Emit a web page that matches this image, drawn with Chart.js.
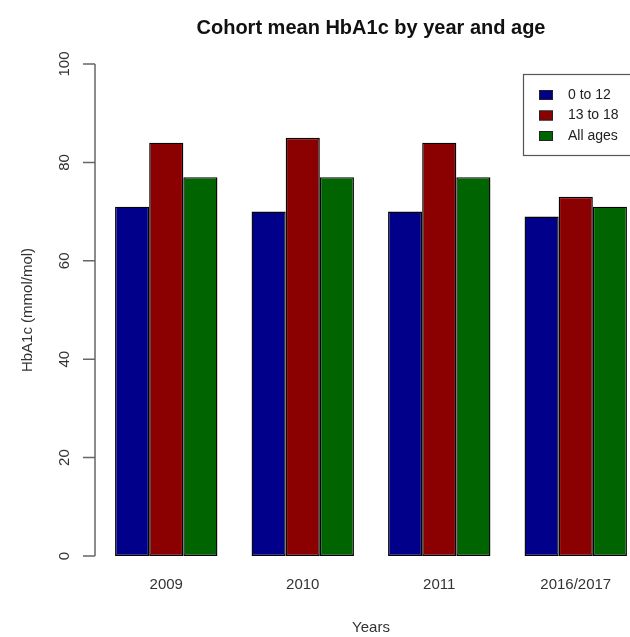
<!DOCTYPE html>
<html>
<head>
<meta charset="utf-8">
<script src="https://cdn.jsdelivr.net/npm/chart.js@4/dist/chart.umd.min.js"></script>
<style>
  html, body { margin: 0; padding: 0; background: #fff; width: 630px; height: 637px; overflow: hidden; }
  #wrap { width: 680px; height: 637px; }
</style>
</head>
<body>
<div id="wrap"><canvas id="chart" width="680" height="637"></canvas></div>
<script>
// Cohort mean HbA1c (mmol/mol) per survey year, split by age group
const years = ['2009', '2010', '2011', '2016/2017'];
const ageGroups = ['0 to 12', '13 to 18', 'All ages'];
const age0to12 = [71, 70, 70, 69];
const age13to18 = [84, 85, 84, 73];
const allAges = [77, 77, 77, 71];
const yTicks = [0, 20, 40, 60, 80, 100];

const FONT = '"Liberation Sans", Arial, Helvetica, sans-serif';
const colours = ['#00008B', '#8B0000', '#006400'];
const seriesValues = [age0to12, age13to18, allAges];

// R-style y axis: line spanning the data range, outward ticks, rotated labels
const baseAxis = {
  id: 'baseAxis',
  afterDraw(chart) {
    const { ctx, chartArea } = chart;
    const y = chart.scales.y;
    const x0 = chartArea.left - 3;
    const vals = y.ticks.map(t => t.value);
    ctx.save();
    ctx.strokeStyle = '#666';
    ctx.lineWidth = 1.5;
    ctx.beginPath();
    ctx.moveTo(x0, y.getPixelForValue(vals[0]));
    ctx.lineTo(x0, y.getPixelForValue(vals[vals.length - 1]));
    vals.forEach(v => {
      const py = y.getPixelForValue(v);
      ctx.moveTo(x0 - 12, py);
      ctx.lineTo(x0, py);
    });
    ctx.stroke();
    ctx.fillStyle = '#333';
    ctx.font = '15px ' + FONT;
    ctx.textAlign = 'center';
    ctx.textBaseline = 'middle';
    vals.forEach(v => {
      const py = y.getPixelForValue(v);
      ctx.save();
      ctx.translate(x0 - 30, py);
      ctx.rotate(-Math.PI / 2);
      ctx.fillText(String(v), 0, 0);
      ctx.restore();
    });
    ctx.restore();
  }
};

// Boxed legend in the top-right corner of the plot
const boxLegend = {
  id: 'boxLegend',
  afterDraw(chart) {
    const { ctx, chartArea } = chart;
    const left = chartArea.right - 121;
    const top = chartArea.top + 10;
    ctx.save();
    ctx.fillStyle = '#fff';
    ctx.fillRect(left, top, 121, 81);
    ctx.strokeStyle = '#555';
    ctx.lineWidth = 1.2;
    ctx.strokeRect(left + 0.5, top + 0.5, 121, 81);
    ctx.font = '14px ' + FONT;
    ctx.textBaseline = 'middle';
    ctx.textAlign = 'left';
    chart.data.datasets.forEach((ds, i) => {
      const cy = top + 21 + i * 20.5;
      ctx.fillStyle = ds.backgroundColor;
      ctx.fillRect(left + 16, cy - 5, 14, 10);
      ctx.strokeStyle = '#222';
      ctx.lineWidth = 1;
      ctx.strokeRect(left + 16.5, cy - 4.5, 13, 9);
      ctx.fillStyle = '#222';
      ctx.fillText(ds.label, left + 45, cy);
    });
    ctx.restore();
  }
};

new Chart(document.getElementById('chart'), {
  type: 'bar',
  data: {
    labels: years,
    datasets: ageGroups.map((g, i) => ({
      label: g,
      data: seriesValues[i],
      backgroundColor: colours[i],
      borderColor: '#000',
      borderWidth: 1.4,
      borderSkipped: false,
      barPercentage: 1,
      categoryPercentage: 0.75
    }))
  },
  options: {
    responsive: false,
    animation: false,
    devicePixelRatio: 1,
    layout: { padding: { left: 0, right: 36, top: 0, bottom: 0 } },
    plugins: {
      legend: { display: false },
      tooltip: { enabled: false },
      title: {
        display: true,
        fullSize: false,
        text: 'Cohort mean HbA1c by year and age',
        color: '#111',
        font: { family: FONT, size: 20, weight: 'bold' },
        padding: { top: 16, bottom: 24 }
      }
    },
    scales: {
      x: {
        grid: { display: false, drawTicks: false },
        border: { display: false },
        ticks: { color: '#333', font: { family: FONT, size: 15 }, padding: 20, maxRotation: 0 },
        title: {
          display: true, text: 'Years', color: '#333',
          font: { family: FONT, size: 15 }, padding: { top: 0, bottom: 0 }
        },
        afterFit(s) { s.height = 81; }
      },
      y: {
        min: 0,
        max: 100,
        afterBuildTicks(s) { s.ticks = yTicks.map(v => ({ value: v })); },
        grid: { display: false },
        border: { display: false },
        ticks: { display: false },
        title: {
          display: true, text: 'HbA1c (mmol/mol)', color: '#333',
          font: { family: FONT, size: 15 }, padding: { top: 19, bottom: 0 }
        },
        afterFit(s) { s.width = 98; }
      }
    }
  },
  plugins: [baseAxis, boxLegend]
});
</script>
</body>
</html>
